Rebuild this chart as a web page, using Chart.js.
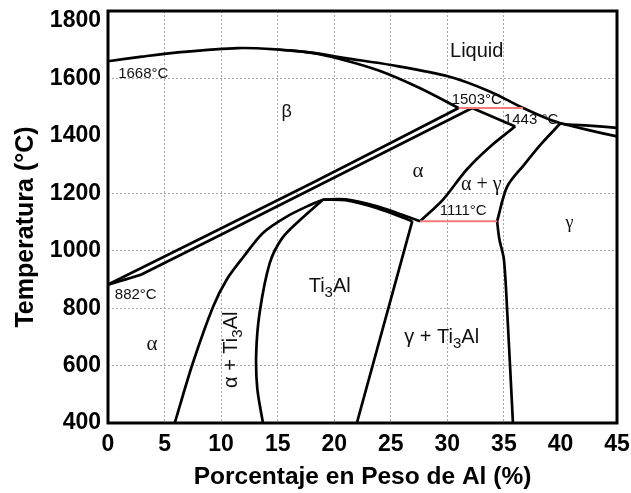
<!DOCTYPE html>
<html>
<head>
<meta charset="utf-8">
<script src="https://cdn.jsdelivr.net/npm/chart.js@4.4.0/dist/chart.umd.min.js"></script>
<style>
  body { margin: 0; background: #fff; }
  canvas { display: block; }
</style>
</head>
<body>
<canvas id="chart" width="631" height="493"></canvas>
<script>
const xTicks = [0, 5, 10, 15, 20, 25, 30, 35, 40, 45];
const yTicks = [400, 600, 800, 1000, 1200, 1400, 1600, 1800];
const xGrid = [5, 10, 15, 20, 25, 30, 35];
const yGrid = [600, 800, 1000, 1200, 1600];

// phase boundaries as [wt% Al, temperature °C]
const liquidus = [[0, 1660], [3, 1676], [6, 1690], [11.5, 1706], [15, 1701], [18, 1690], [21, 1671], [25, 1647], [30.2, 1606], [33.8, 1554], [36.7, 1497], [40, 1444], [42.5, 1436], [45, 1428]];
const betaSolidus = [[15, 1701], [18, 1689], [20.5, 1668], [24, 1627], [27.6, 1566], [31, 1497]];
const betaTransus = [[0, 882], [18, 1235], [31, 1497]];
const alphaTransus = [[0, 882], [3, 918], [18, 1215], [32.2, 1497]];
const gammaSolidus = [[40, 1444], [42.5, 1420], [45, 1398]];
const alphaTop = [[32.2, 1497], [36, 1433]];
const alphaGamma = [[36, 1433], [33.8, 1363], [31.7, 1282], [29.6, 1177], [27.6, 1103]];
const gammaUpper = [[40, 1444], [38.3, 1372], [36.8, 1300], [35.3, 1224], [34.4, 1103]];
const gammaLower = [[34.4, 1103], [34.6, 1040], [35, 970], [35.3, 783], [35.8, 400]];
const alphaTi3AlOuter = [[5.9, 400], [7.5, 609], [9.3, 806], [10.5, 900], [12, 980], [13.7, 1062], [15.8, 1119], [17.9, 1160], [19, 1178]];
const alphaTi3AlInner = [[13.7, 400], [13.2, 520], [13.1, 640], [13.4, 783], [14.3, 957], [15.4, 1044], [17, 1108], [19, 1178]];
const domeOuter = [[19, 1178], [21, 1179], [23.8, 1155], [26, 1125], [27.6, 1103]];
const domeInner = [[19, 1178], [21, 1176], [23.8, 1148], [26.9, 1103]];
const ti3AlGamma = [[26.9, 1103], [22, 400]];
const peritectic1503 = [[31, 1497], [36.7, 1497]];
const eutectoid1111 = [[27.6, 1103], [34.4, 1103]];

const SANS = '"Liberation Sans", Arial, sans-serif';
const SERIF = '"Liberation Serif", "Times New Roman", serif';
const Y_TITLE = 'Temperatura (°C)';

// text inside the diagram, "_3" is drawn as subscript
const phaseLabels = [
    {text: '1668°C', x: 0.9, y: 1615, size: 15, family: SANS, align: 'left'},
    {text: '882°C', x: 0.6, y: 847, size: 15, family: SANS, align: 'left'},
    {text: '1503°C', x: 32.6, y: 1525, size: 15, family: SANS, align: 'center'},
    {text: '1443 °C', x: 37.4, y: 1455, size: 15, family: SANS, align: 'center'},
    {text: '1111°C', x: 31.4, y: 1139, size: 15, family: SANS, align: 'center'},
    {text: 'Liquid', x: 32.6, y: 1693, size: 20, family: SANS, align: 'center'},
    {text: 'β', x: 15.8, y: 1484, size: 18, family: SANS, align: 'center'},
    {text: 'α', x: 27.4, y: 1276, size: 21, family: SERIF, align: 'center'},
    {text: 'α + γ', x: 33, y: 1230, size: 20, family: SERIF, align: 'center'},
    {text: 'γ', x: 40.8, y: 1097, size: 18, family: SERIF, align: 'center'},
    {text: 'α', x: 3.9, y: 673, size: 21, family: SERIF, align: 'center'},
    {text: 'α + Ti_3Al', x: 10.9, y: 655, size: 20, family: SANS, align: 'center', rotate: true},
    {text: 'Ti_3Al', x: 19.6, y: 875, size: 20, family: SANS, align: 'center'},
    {text: 'γ + Ti_3Al', x: 29.5, y: 697, size: 20, family: SANS, align: 'center'}
];

function drawRich(ctx, label, px, py) {
    const parts = label.text.split(/(_\d)/).filter(p => p.length);
    const weight = label.bold ? 'bold ' : '';
    const runs = parts.map(p => {
        const sub = p.startsWith('_');
        const size = sub ? label.size * 0.75 : label.size;
        ctx.font = weight + size + 'px ' + label.family;
        const text = sub ? p.slice(1) : p;
        return {text, sub, font: ctx.font, w: ctx.measureText(text).width};
    });
    const total = runs.reduce((s, r) => s + r.w, 0);
    ctx.save();
    ctx.translate(px, py);
    if (label.rotate) ctx.rotate(-Math.PI / 2);
    let cx = label.align === 'left' ? 0 : -total / 2;
    ctx.textAlign = 'left';
    ctx.textBaseline = 'middle';
    runs.forEach(r => {
        ctx.font = r.font;
        ctx.fillText(r.text, cx, r.sub ? label.size * 0.32 : 0);
        cx += r.w;
    });
    ctx.restore();
}

const diagramDecor = {
    id: 'diagramDecor',
    afterDatasetsDraw(chart) {
        const {ctx, scales: {x, y}} = chart;
        ctx.save();
        ctx.fillStyle = '#111';
        phaseLabels.forEach(l => drawRich(ctx, l, x.getPixelForValue(l.x), y.getPixelForValue(l.y)));
        ctx.restore();
    },
    afterDraw(chart) {
        const {ctx, chartArea: a} = chart;
        ctx.save();
        ctx.strokeStyle = '#000';
        ctx.lineWidth = 3;
        ctx.strokeRect(a.left, a.top, a.right - a.left, a.bottom - a.top);
        // y axis title sits a bit lower than the plot centre in the original
        ctx.fillStyle = '#000';
        drawRich(ctx, {text: Y_TITLE, size: 25, family: SANS, bold: true, align: 'center', rotate: true}, 26, 227);
        ctx.restore();
    }
};

function boundary(points, color = '#000', width = 2.7, tension = 0.3) {
    return {
        data: points.map(p => ({x: p[0], y: p[1]})),
        showLine: true,
        borderColor: color,
        borderWidth: width,
        pointRadius: 0,
        tension: tension,
        fill: false
    };
}

const datasets = [
    boundary(peritectic1503, '#f27b7b', 2, 0),
    boundary(eutectoid1111, '#f27b7b', 2, 0),
    boundary(liquidus),
    boundary(betaSolidus),
    boundary(betaTransus, '#000', 2.7, 0.1),
    boundary(alphaTransus, '#000', 2.7, 0.1),
    boundary(gammaSolidus),
    boundary(alphaTop, '#000', 2.7, 0),
    boundary(alphaGamma),
    boundary(gammaUpper),
    boundary(gammaLower),
    boundary(alphaTi3AlOuter),
    boundary(alphaTi3AlInner),
    boundary(domeOuter),
    boundary(domeInner),
    boundary(ti3AlGamma, '#000', 2.7, 0)
];

new Chart(document.getElementById('chart'), {
    type: 'scatter',
    data: {datasets},
    options: {
        responsive: false,
        animation: false,
        devicePixelRatio: 1,
        layout: {padding: {left: 0, right: 14, top: 11, bottom: 0}},
        plugins: {legend: {display: false}, tooltip: {enabled: false}},
        scales: {
            x: {
                type: 'linear', min: 0, max: 45, bounds: 'data',
                afterBuildTicks: s => { s.ticks = xTicks.map(v => ({value: v})); },
                afterFit: s => { s.height = 70; s.paddingLeft = 0; s.paddingRight = 0; },
                ticks: {color: '#000', font: {family: SANS, size: 23, weight: 'bold'}, padding: 8, maxRotation: 0, autoSkip: false,
                    callback: v => String(v)},
                grid: {
                    color: c => (c.tick && xGrid.includes(c.tick.value)) ? '#a8a8a8' : 'rgba(0,0,0,0)',
                    drawTicks: false, lineWidth: 1
                },
                border: {display: false, dash: [2, 2]},
                title: {display: true, text: 'Porcentaje en Peso de Al (%)', color: '#000',
                    font: {family: SANS, size: 24.5, weight: 'bold'}, padding: {top: 0, bottom: 1}}
            },
            y: {
                type: 'linear', min: 400, max: 1835, bounds: 'data',
                afterBuildTicks: s => { s.ticks = yTicks.map(v => ({value: v})); },
                afterFit: s => { s.width = 108; s.paddingTop = 0; s.paddingBottom = 0; },
                ticks: {color: '#000', font: {family: SANS, size: 23, weight: 'bold'}, padding: 7, autoSkip: false,
                    callback: v => String(v)},
                grid: {
                    color: c => (c.tick && yGrid.includes(c.tick.value)) ? '#a8a8a8' : 'rgba(0,0,0,0)',
                    drawTicks: false, lineWidth: 1
                },
                border: {display: false, dash: [2, 2]}
            }
        }
    },
    plugins: [diagramDecor]
});
</script>
</body>
</html>
